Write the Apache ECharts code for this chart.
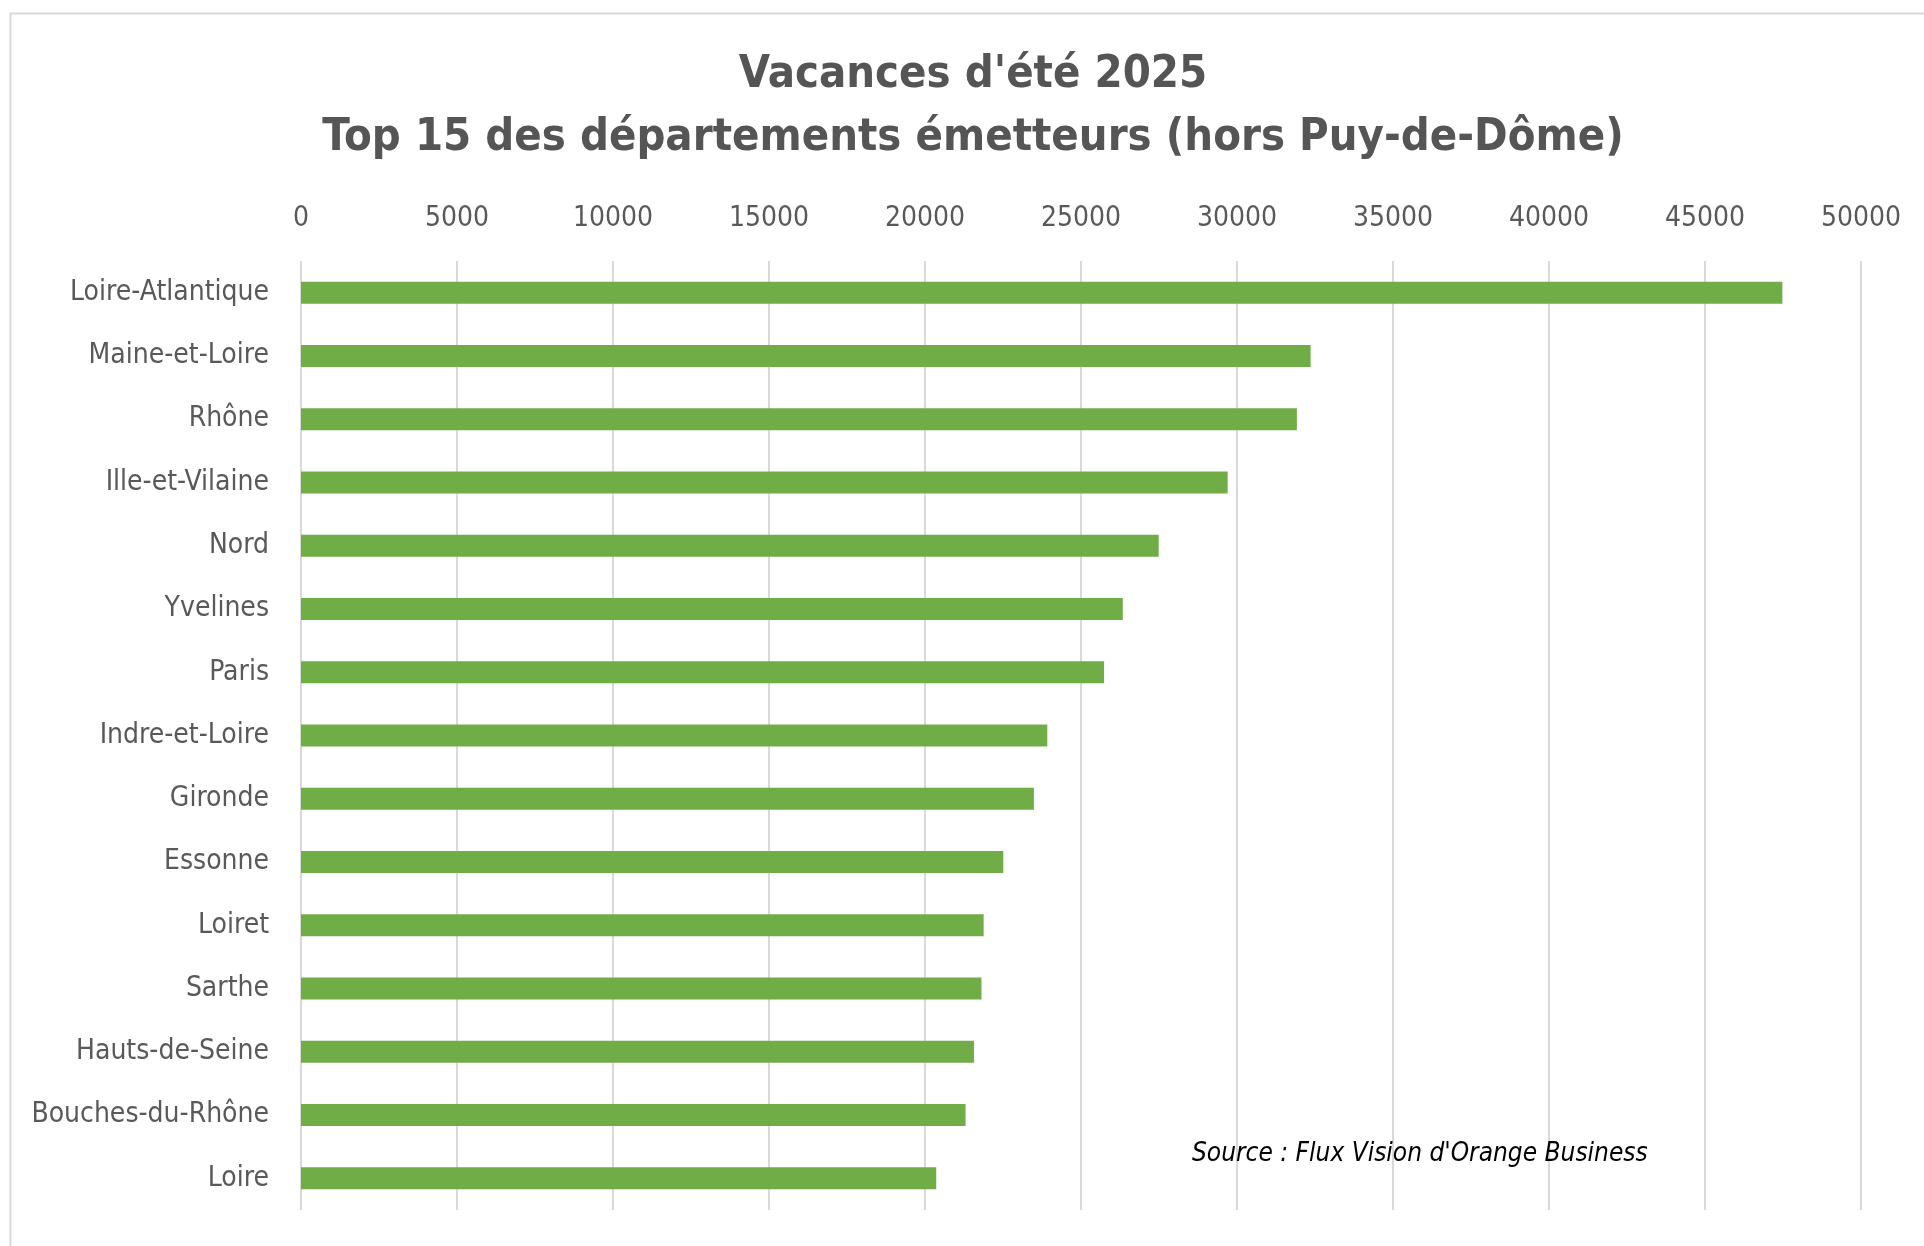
<!DOCTYPE html>
<html>
<head>
<meta charset="utf-8">
<title>Vacances d'été 2025</title>
<script src="https://cdn.jsdelivr.net/npm/echarts@6/dist/echarts.min.js"></script>
<style>
  html, body { margin: 0; padding: 0; background: #ffffff; }
  #chart { width: 1924px; height: 1246px; }
</style>
</head>
<body>
<div id="chart"></div>
<script>
const departements = [
  'Loire-Atlantique', 'Maine-et-Loire', 'Rhône', 'Ille-et-Vilaine', 'Nord',
  'Yvelines', 'Paris', 'Indre-et-Loire', 'Gironde', 'Essonne',
  'Loiret', 'Sarthe', 'Hauts-de-Seine', 'Bouches-du-Rhône', 'Loire'
]
const visiteurs = [
  47480, 32360, 31920, 29700, 27490,
  26340, 25740, 23920, 23490, 22510,
  21880, 21810, 21570, 21300, 20360
]
const titleLines = ["Vacances d'été 2025", 'Top 15 des départements émetteurs (hors Puy-de-Dôme)']
const sourceText = "Source : Flux Vision d'Orange Business"

const FONT = '"DejaVu Sans Condensed", "DejaVu Sans", sans-serif'
const GREEN = '#70ad47'
const LABEL = '#595959'
const GRID = '#d9d9d9'

const chart = echarts.init(document.getElementById('chart'))

chart.setOption({
  backgroundColor: '#ffffff',
  animation: false,
  title: {
    text: titleLines.join('\n'),
    left: 968,
    top: 39,
    textAlign: 'center',
    textStyle: {
      fontFamily: FONT,
      fontSize: 45,
      fontWeight: 'bold',
      color: '#555555',
      lineHeight: 63,
    },
  },
  grid: {
    left: 301,
    right: 63,
    top: 261,
    bottom: 36,
  },
  xAxis: {
    type: 'value',
    position: 'top',
    min: 0,
    max: 50000,
    interval: 5000,
    axisLine: { show: false },
    axisTick: { show: false },
    axisLabel: {
      color: LABEL,
      fontFamily: FONT,
      fontSize: 28,
      margin: 28,
      formatter: (v) => String(v),
    },
    splitLine: { lineStyle: { color: GRID, width: 2 } },
  },
  yAxis: {
    type: 'category',
    inverse: true,
    data: departements,
    axisLine: { show: false },
    axisTick: { show: false },
    axisLabel: {
      color: LABEL,
      fontFamily: FONT,
      fontSize: 28,
      margin: 32,
    },
  },
  series: [
    {
      type: 'bar',
      data: visiteurs,
      barWidth: 22,
      itemStyle: { color: GREEN },
    },
  ],
  graphic: [
    {
      type: 'rect',
      left: 8,
      top: 11,
      silent: true,
      shape: { width: 2000, height: 2000 },
      style: { fill: 'none', stroke: GRID, lineWidth: 2 },
    },
    {
      type: 'text',
      left: 1192,
      top: 1141,
      z: 100,
      style: {
        text: sourceText,
        fill: '#000000',
        font: 'italic 26px ' + FONT,
      },
    },
  ],
})
</script>
</body>
</html>
